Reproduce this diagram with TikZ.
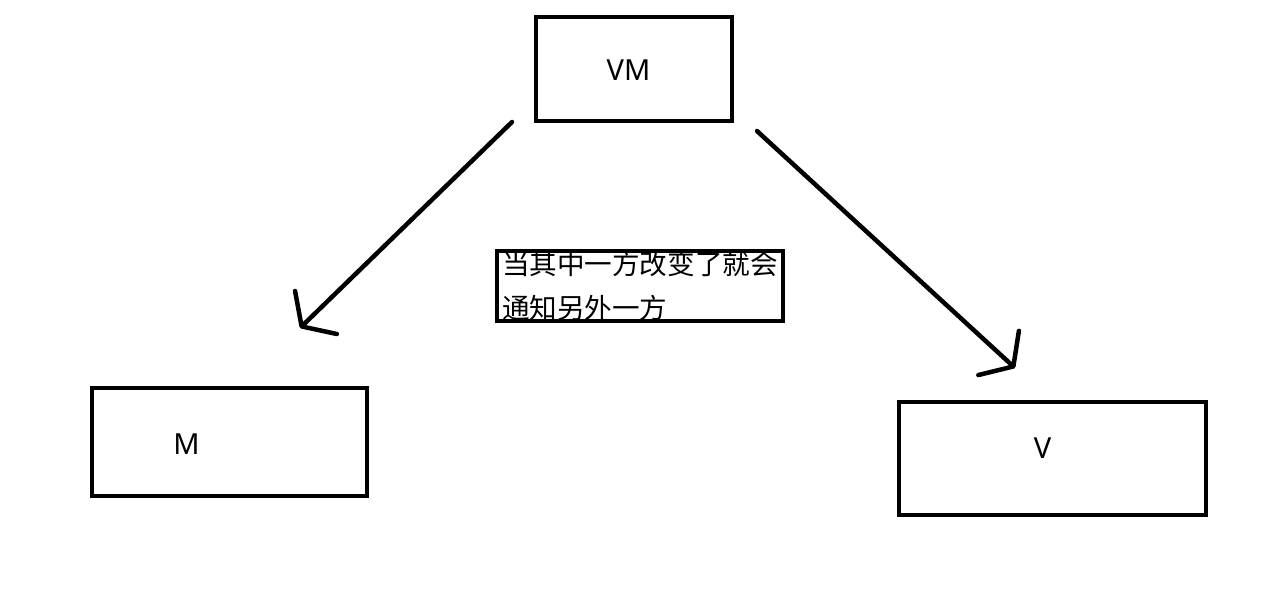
\documentclass[tikz,border=0pt]{standalone}
\usepackage{fontspec}
\setmainfont{Noto Sans}
\newfontfamily\cjk{Noto Sans CJK SC}
\usepackage{tikz}
\usetikzlibrary{arrows.meta}

\begin{document}
\begin{tikzpicture}[
    x=0.02cm, y=-0.02cm,
    font=\fontsize{16.5pt}{19pt}\selectfont,
    box/.style={rectangle, draw, line width=0.09cm},
    note/.style={rectangle, draw, line width=0.09cm, minimum width=5.72cm, text width=5.52cm,
        inner xsep=0.1cm, inner ysep=0pt, align=left, font=\cjk\fontsize{15.7pt}{25pt}\selectfont},
    arrow/.style={-{Straight Barb[length=0.4cm, width=1.2cm, round]}, line width=0.09cm, line cap=round}
]
    \useasboundingbox (0,0) rectangle (1280,590);

    \node[box, minimum width=3.92cm, minimum height=2.08cm,
        label={[xshift=-0.11cm, yshift=-0.02cm]center:VM}] (vm) at (634,69) {};
    \node[box, minimum width=5.5cm, minimum height=2.16cm,
        label={[xshift=-0.86cm, yshift=-0.05cm]center:M}] (m) at (229.5,442) {};
    \node[box, minimum width=6.14cm, minimum height=2.26cm,
        label={[xshift=-0.2cm, yshift=0.2cm]center:V}] (v) at (1052.5,458.5) {};
    \node[note] (notify) at (640,286) {当其中一方改变了就会\\通知另外一方};

    \coordinate (vmleft) at (512,122);
    \coordinate (vmright) at (757,131);
    \coordinate (mtip) at (300,328);
    \coordinate (vtip) at (1015,368);

    \draw[arrow] (vmleft) -- (mtip);
    \draw[arrow] (vmright) -- (vtip);
\end{tikzpicture}
\end{document}
